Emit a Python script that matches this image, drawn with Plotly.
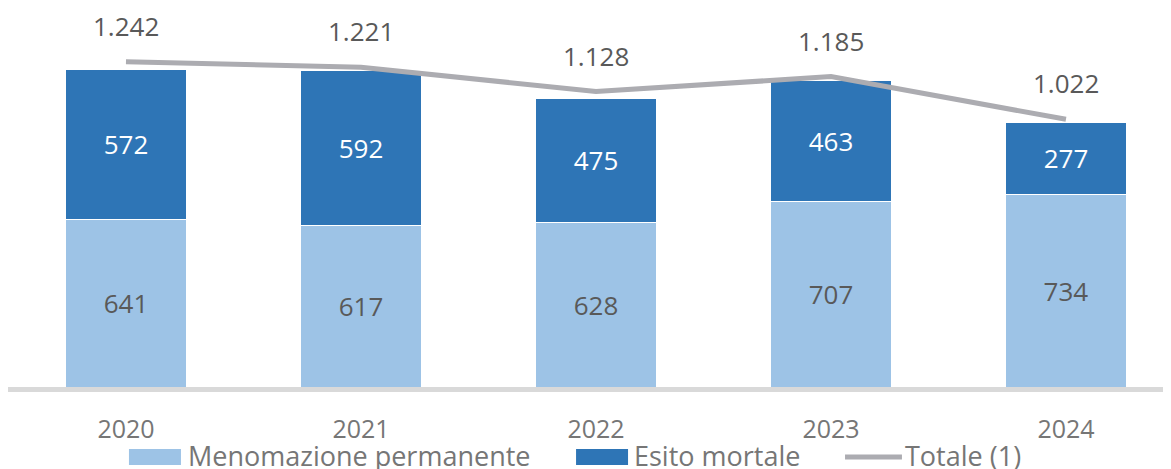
import plotly.graph_objects as go

years = ["2020", "2021", "2022", "2023", "2024"]
menomazione = [641, 617, 628, 707, 734]
esito_mortale = [572, 592, 475, 463, 277]
totale = [1242, 1221, 1128, 1185, 1022]
totale_labels = ["1.242", "1.221", "1.128", "1.185", "1.022"]

names = ["Menomazione permanente", "Esito mortale", "Totale (1)"]
c_light = "#9DC3E6"
c_dark = "#2E75B6"
c_line = "#ACACB1"
FONT = "Open Sans"

fig = go.Figure()
fig.add_trace(go.Bar(
    x=years, y=menomazione, name=names[0], marker=dict(color=c_light, line=dict(color="white", width=1)),
    text=[str(v) for v in menomazione], textposition="inside", insidetextanchor="middle",
    textfont=dict(family=FONT, size=26, color="#595959"), constraintext="none", showlegend=False,
))
fig.add_trace(go.Bar(
    x=years, y=esito_mortale, name=names[1], marker=dict(color=c_dark, line=dict(color="white", width=1)),
    text=[str(v) for v in esito_mortale], textposition="inside", insidetextanchor="middle",
    textfont=dict(family=FONT, size=26, color="white"), constraintext="none", showlegend=False,
))
fig.add_trace(go.Scatter(
    x=years, y=totale, name=names[2], mode="lines",
    line=dict(color=c_line, width=5, shape="linear"), showlegend=False,
))

for i, (y, t) in enumerate(zip(totale, totale_labels)):
    fig.add_annotation(x=i, y=y, xref="x", yref="y", text=t, showarrow=False, yshift=36,
                       font=dict(family=FONT, size=26, color="#595959"))

# custom legend (paper coordinates)
items = [
    (0.1033, 0.1477, 0.1520, names[0], "bar", c_light),
    (0.4851, 0.5295, 0.5330, names[1], "bar", c_dark),
    (0.7148, 0.7634, 0.7643, names[2], "line", c_line),
]
for x0, x1, xt, label, kind, col in items:
    if kind == "bar":
        fig.add_shape(type="rect", xref="paper", yref="paper", x0=x0, x1=x1,
                      y0=-0.2058, y1=-0.1636, fillcolor=col, line=dict(width=0))
    else:
        fig.add_shape(type="line", xref="paper", yref="paper", x0=x0, x1=x1,
                      y0=-0.1847, y1=-0.1847, line=dict(color=col, width=5))
    fig.add_annotation(xref="paper", yref="paper", x=xt, y=-0.182, xanchor="left",
                       yanchor="middle", text=label, showarrow=False,
                       font=dict(family=FONT, size=27, color="#767676"))

fig.update_layout(
    width=1171, height=469,
    margin=dict(l=0, r=0, t=0, b=90),
    barmode="stack", bargap=0.485,
    plot_bgcolor="white", paper_bgcolor="white",
    font=dict(family=FONT),
    xaxis=dict(type="category", range=[-0.502, 4.481], showline=True, linecolor="#D9D9D9",
               linewidth=5, ticks="outside", ticklen=16, tickcolor="rgba(0,0,0,0)",
               tickfont=dict(family=FONT, size=25, color="#767676"), showgrid=False),
    yaxis=dict(range=[0, 1447], visible=False, showgrid=False),
)

fig.write_html("out.html")
